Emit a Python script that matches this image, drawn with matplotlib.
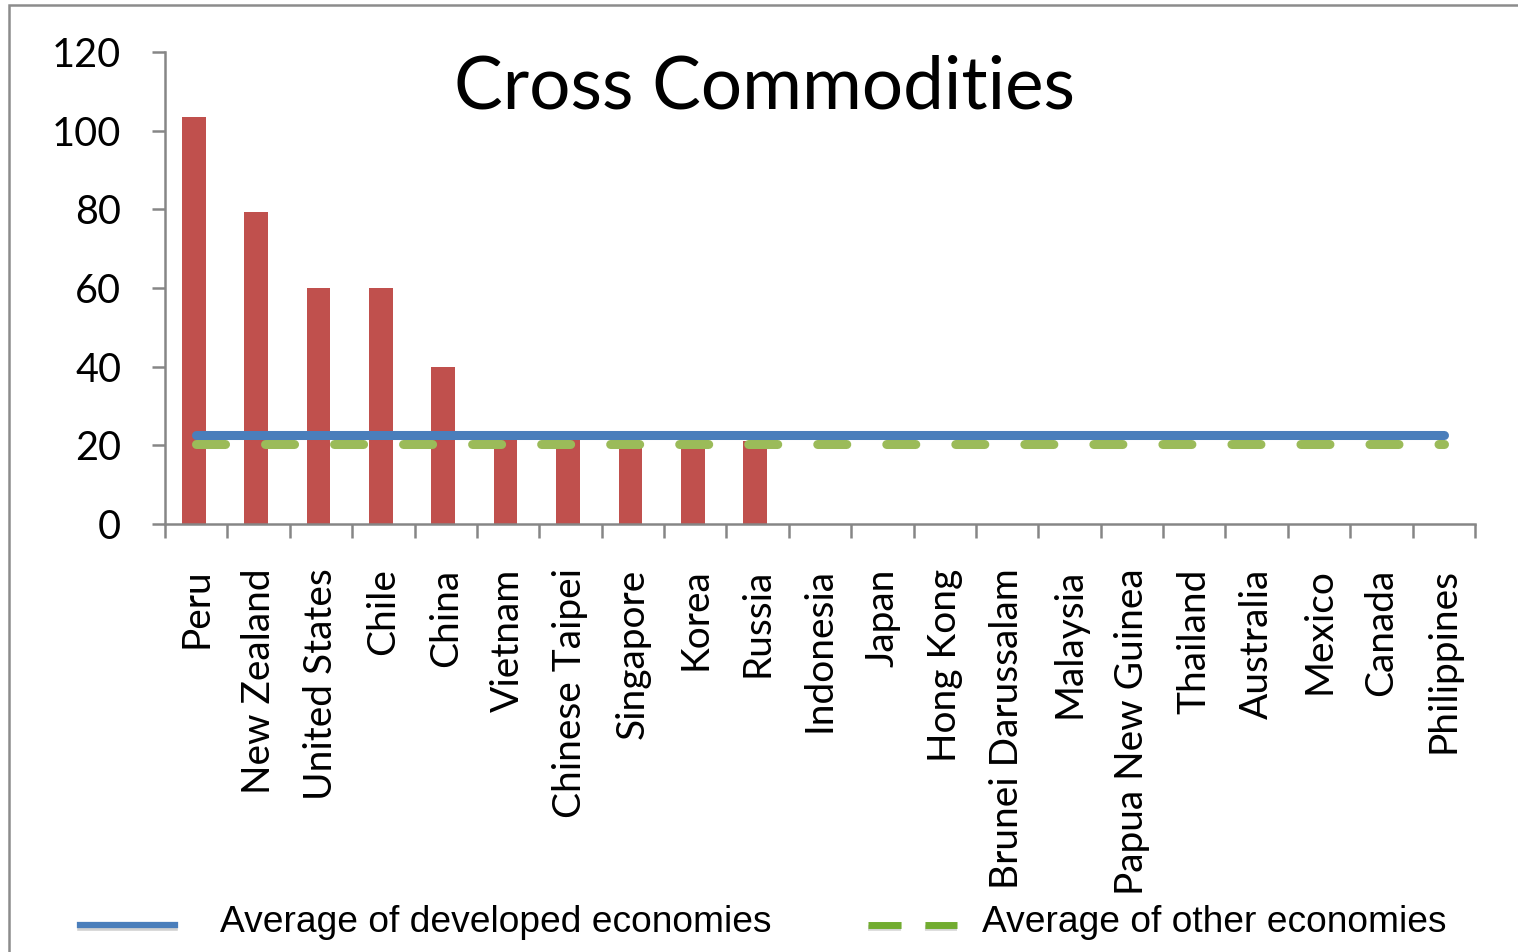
import matplotlib
matplotlib.use("Agg")
import matplotlib.pyplot as plt
from matplotlib.lines import Line2D
from matplotlib.patches import Rectangle
import numpy as np

categories = ["Peru", "New Zealand", "United States", "Chile", "China", "Vietnam",
              "Chinese Taipei", "Singapore", "Korea", "Russia", "Indonesia", "Japan",
              "Hong Kong", "Brunei Darussalam", "Malaysia", "Papua New Guinea",
              "Thailand", "Australia", "Mexico", "Canada", "Philippines"]
values = [103.5, 79.3, 60, 60, 40, 22, 22, 21, 21, 21, 0, 0, 0, 0, 0, 0, 0, 0, 0, 0, 0]
avg_developed = 22.6
avg_other = 20.3
yticks = [0, 20, 40, 60, 80, 100, 120]

plt.rcParams['font.family'] = ['Lato', 'DejaVu Sans']
plt.rcParams['lines.scale_dashes'] = False

W, H = 1518, 952
fig = plt.figure(figsize=(W / 100, H / 100), dpi=100)
ax = fig.add_axes([165 / W, 1 - 524 / H, 1310 / W, 472 / H])

n = len(categories)
x = np.arange(n)
ax.bar(x - 0.04, values, width=0.38, color="#C0504D", zorder=2)

ax.plot([x[0], x[-1]], [avg_other] * 2, color="#9BBB59", lw=6.5,
        dashes=(20.9, 28.8), dash_capstyle="round", solid_capstyle="round", zorder=3)
ax.plot([x[0], x[-1]], [avg_developed] * 2, color="#4A7EBB", lw=6.5,
        solid_capstyle="round", zorder=4)

ax.set_xlim(-0.5, n - 0.5)
ax.set_ylim(0, 120)
ax.set_yticks(yticks)
ax.set_yticklabels([str(v) for v in yticks])
ax.tick_params(axis="y", length=9.5, width=1.8, color="#868686", labelsize=28.5, pad=22)

ax.set_xticks(np.arange(n + 1) - 0.5)
ax.set_xticklabels([])
ax.tick_params(axis="x", which="major", length=10, width=1.8, color="#868686")
ax.set_xticks(x, minor=True)
ax.set_xticklabels(categories, minor=True, rotation=90, va="top", ha="center")
ax.tick_params(axis="x", which="minor", length=0, labelsize=28, pad=32)

for s in ["top", "right"]:
    ax.spines[s].set_visible(False)
for s in ["left", "bottom"]:
    ax.spines[s].set_color("#868686")
    ax.spines[s].set_linewidth(1.8)

fig.text(764 / W, 1 - 88 / H, "Cross Commodities", fontsize=52.5, ha="center", va="center")

# chart border
fig.add_artist(Rectangle((9 / W, -0.05), 1.2, 1 - 5 / H + 0.05, transform=fig.transFigure,
                         fill=False, edgecolor="#8C8C8C", linewidth=1.8))

# legend
ly = 1 - 925 / H
fig.add_artist(Line2D([80 / W, 175 / W], [ly - 3 / H] * 2, color="#D0D0D0", lw=4,
                      transform=fig.transFigure))
fig.add_artist(Line2D([80 / W, 175 / W], [ly] * 2, color="#4A7EBB", lw=4.5,
                      transform=fig.transFigure))
fig.text(220 / W, 1 - 922 / H, "Average of developed economies", fontsize=26.7,
         family=["Liberation Sans", "DejaVu Sans"], ha="left", va="center")
fig.add_artist(Line2D([868 / W, 957 / W], [ly - 3 / H] * 2, color="#D5D5D5", lw=4,
                      dashes=(23.8, 17.2), transform=fig.transFigure))
fig.add_artist(Line2D([868 / W, 957 / W], [ly] * 2, color="#72AC30", lw=5,
                      dashes=(23.8, 17.2), transform=fig.transFigure))
fig.text(982 / W, 1 - 922 / H, "Average of other economies", fontsize=26.7,
         family=["Liberation Sans", "DejaVu Sans"], ha="left", va="center")

fig.savefig("out.png", dpi=100)
